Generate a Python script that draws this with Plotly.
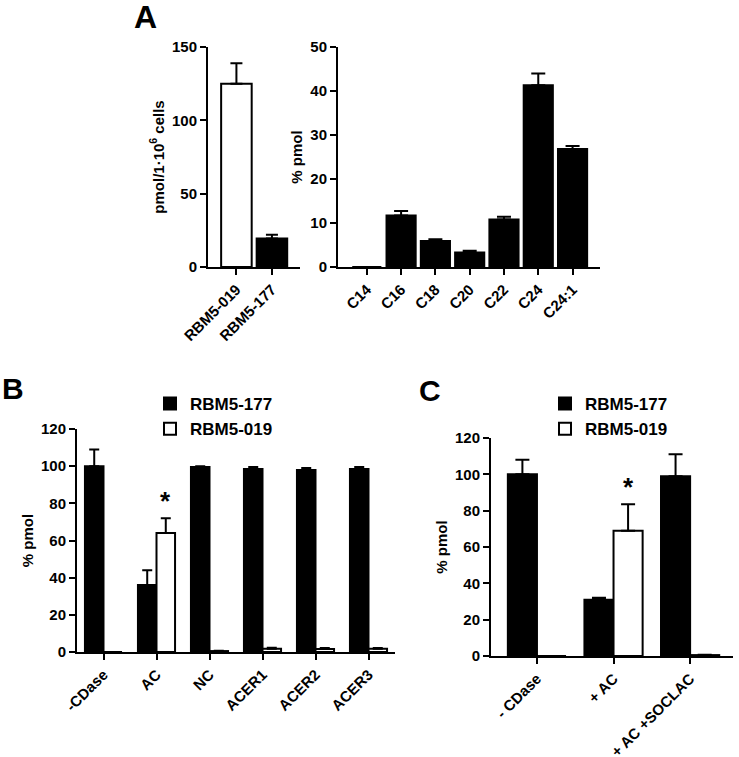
import plotly.graph_objects as go

W, H = 739, 757

# ---------------- data ----------------
a1_cats = ["RBM5-019", "RBM5-177"]
a1_vals = [125, 19.5]
a1_errs = [139, 22]

a2_cats = ["C14", "C16", "C18", "C20", "C22", "C24", "C24:1"]
a2_vals = [0, 11.7, 5.9, 3.3, 10.8, 41.3, 26.8]
a2_errs = [0, 12.7, 6.3, 3.7, 11.4, 44.0, 27.5]

b_cats = ["-CDase", "AC", "NC", "ACER1", "ACER2", "ACER3"]
b_177 = [100, 36, 99.5, 98.5, 98, 98.5]
b_177_err = [109, 44, 100, 99.5, 99, 99.5]
b_019 = [0, 64, 0.5, 1.8, 1.6, 1.7]
b_019_err = [0, 72, 0.7, 2.3, 2.1, 2.2]

c_cats = ["- CDase", "+ AC", "+ AC +SOCLAC"]
c_177 = [100, 31, 99]
c_177_err = [108, 32, 111]
c_019 = [0, 69, 0.5]
c_019_err = [0, 83.5, 0.7]

FONT = "Liberation Sans"

def px_dom_x(a, b):
    return [a / W, b / W]

def px_dom_y(top, bottom):
    return [1 - bottom / H, 1 - top / H]

def up_err(vals, tops):
    return [t - v for v, t in zip(vals, tops)]

fig = go.Figure()

def bar(x, y, err, fill, xa, ya, width, offset=None, name=None, legend=None, showlegend=False, cap=6):
    fig.add_trace(go.Bar(
        x=x, y=y, name=name, xaxis=xa, yaxis=ya,
        width=width, offset=offset,
        marker=dict(color=fill, line=dict(color="black", width=2)),
        error_y=dict(type="data", symmetric=False, array=up_err(y, err),
                     arrayminus=[0] * len(y), color="black", thickness=2, width=cap),
        showlegend=showlegend, legend=legend,
    ))

# Panel A left
bar(a1_cats, a1_vals, a1_errs, ["white", "black"], "x", "y", 0.86, cap=6)
# Panel A right
bar(a2_cats, a2_vals, a2_errs, "black", "x2", "y2", 0.85, cap=7)
# Panel B
bar(b_cats, b_177, b_177_err, "black", "x3", "y3", 0.35, offset=-0.35,
    name="RBM5-177", legend="legend", showlegend=True, cap=5)
bar(b_cats, b_019, b_019_err, "white", "x3", "y3", 0.35, offset=0.0,
    name="RBM5-019", legend="legend", showlegend=True, cap=5)
# Panel C
bar(c_cats, c_177, c_177_err, "black", "x4", "y4", 0.38, offset=-0.38,
    name="RBM5-177", legend="legend2", showlegend=True, cap=7)
bar(c_cats, c_019, c_019_err, "white", "x4", "y4", 0.38, offset=0.0,
    name="RBM5-019", legend="legend2", showlegend=True, cap=7)

tickfont = dict(family=FONT, size=15, color="black", weight="bold")
titlefont = dict(family=FONT, size=15, color="black", weight="bold")

def xaxis(dom, rng, cats, anchor):
    return dict(domain=dom, range=rng, anchor=anchor, type="category",
                categoryorder="array", categoryarray=cats,
                showline=True, linecolor="black", linewidth=2,
                ticks="outside", ticklen=6, tickwidth=2, tickcolor="black",
                tickangle=-45, tickfont=tickfont, showgrid=False, zeroline=False,
                automargin=False, fixedrange=True)

def yaxis(dom, rng, dtick, anchor, title, standoff=4):
    return dict(domain=dom, range=rng, anchor=anchor, dtick=dtick,
                showline=True, linecolor="black", linewidth=2,
                ticks="outside", ticklen=6, tickwidth=2, tickcolor="black",
                tickfont=tickfont, showgrid=False, zeroline=False,
                title=dict(text=title, font=titlefont, standoff=standoff),
                automargin=False, fixedrange=True)

legfont = dict(family=FONT, size=17, color="black", weight="bold")

fig.update_layout(
    template="none",
    width=W, height=H, margin=dict(l=0, r=0, t=0, b=0, autoexpand=False),
    paper_bgcolor="white", plot_bgcolor="white",
    barmode="overlay",
    xaxis=xaxis(px_dom_x(208, 300), [-0.8, 1.79], a1_cats, "y"),
    yaxis=yaxis(px_dom_y(47, 267), [0, 150], 50, "x", "pmol/1·10<sup>6</sup> cells"),
    xaxis2=xaxis(px_dom_x(338, 600), [-0.84, 6.8], a2_cats, "y2"),
    yaxis2=yaxis(px_dom_y(47, 267), [0, 50], 10, "x2", "% pmol"),
    xaxis3=xaxis(px_dom_x(77, 395), [-0.5, 5.5], b_cats, "y3"),
    yaxis3=yaxis(px_dom_y(429, 652), [0, 120], 20, "x3", "% pmol"),
    xaxis4=xaxis(px_dom_x(491, 733), [-0.6, 2.56], c_cats, "y4"),
    yaxis4=yaxis(px_dom_y(438, 656), [0, 120], 20, "x4", "% pmol"),
    legend=dict(x=150 / W, y=1 - 386 / H, xanchor="left", yanchor="top",
                font=legfont, bgcolor="rgba(0,0,0,0)", itemwidth=30, tracegroupgap=0),
    legend2=dict(x=545 / W, y=1 - 386 / H, xanchor="left", yanchor="top",
                 font=legfont, bgcolor="rgba(0,0,0,0)", itemwidth=30, tracegroupgap=0),
)

ann_font = dict(family=FONT, size=30, color="black", weight="bold")
fig.add_annotation(text="A", x=145 / W, y=1 - 17 / H, xref="paper", yref="paper",
                   xanchor="center", yanchor="middle", showarrow=False,
                   font=dict(family=FONT, size=32, color="black", weight="bold"))
fig.add_annotation(text="B", x=13 / W, y=1 - 388 / H, xref="paper", yref="paper",
                   xanchor="center", yanchor="middle", showarrow=False, font=ann_font)
fig.add_annotation(text="C", x=430 / W, y=1 - 390 / H, xref="paper", yref="paper",
                   xanchor="center", yanchor="middle", showarrow=False, font=ann_font)

star_font = dict(family=FONT, size=26, color="black", weight="bold")
fig.add_annotation(text="*", x="AC", y=b_019_err[1], xref="x3", yref="y3",
                   xshift=9, yshift=0, yanchor="bottom", showarrow=False, font=star_font)
fig.add_annotation(text="*", x="+ AC", y=c_019_err[1], xref="x4", yref="y4",
                   xshift=15, yshift=0, yanchor="bottom", showarrow=False, font=star_font)

fig.write_html("out.html", config={"displayModeBar": False},
               post_script="document.body.style.margin='0';document.body.style.overflow='hidden';")
